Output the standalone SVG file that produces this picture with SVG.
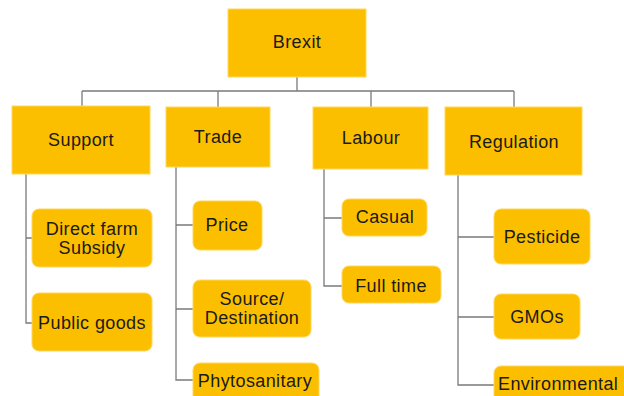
<svg xmlns="http://www.w3.org/2000/svg" width="624" height="396" viewBox="0 0 624 396">
<style>
.b{fill:#FCBF00;stroke:#FFD75A;stroke-width:1}
.t{font-family:"Liberation Sans",Arial,sans-serif;font-size:18px;letter-spacing:0.4px;fill:#1a1a1a;text-anchor:middle}
.l{fill:none;stroke:#7a7a7a;stroke-width:1.3}
</style>
<rect width="624" height="396" fill="#fff"/>
<g id="connectors">
<path class="l" d="M297 77V91M82 91H514M82 91V106M218 91V107M371 91V107M514 91V107"/>
<path class="l" d="M26 174V323H32M26 238H32"/>
<path class="l" d="M176 167V380H193M176 225H193M176 309H193"/>
<path class="l" d="M324 169V286H342M324 218H342"/>
<path class="l" d="M458 175V385H494M458 237H494M458 317H494"/>
</g>
<g id="brexit"><rect class="b" x="228" y="9" width="138" height="68"/><text class="t" x="297" y="48">Brexit</text></g>
<g id="support"><rect class="b" x="12" y="106" width="138" height="68"/><text class="t" x="81" y="146">Support</text></g>
<g id="trade"><rect class="b" x="166" y="107" width="104" height="60"/><text class="t" x="218" y="143">Trade</text></g>
<g id="labour"><rect class="b" x="313" y="107" width="115" height="62"/><text class="t" x="371" y="144">Labour</text></g>
<g id="regulation"><rect class="b" x="445" y="107" width="137" height="68"/><text class="t" x="514" y="148">Regulation</text></g>
<g id="direct"><rect class="b" x="32" y="209" width="120" height="58" rx="7"/><text class="t" x="92" y="235">Direct farm</text><text class="t" x="92" y="254">Subsidy</text></g>
<g id="public"><rect class="b" x="32" y="293" width="120" height="58" rx="7"/><text class="t" x="92" y="329">Public goods</text></g>
<g id="price"><rect class="b" x="193" y="201" width="69" height="49" rx="7"/><text class="t" x="227" y="231">Price</text></g>
<g id="source"><rect class="b" x="193" y="280" width="118" height="57" rx="7"/><text class="t" x="252" y="305">Source/</text><text class="t" x="252" y="324">Destination</text></g>
<g id="phyto"><rect class="b" x="193" y="363" width="126" height="45" rx="7"/><text class="t" x="255" y="387">Phytosanitary</text></g>
<g id="casual"><rect class="b" x="342" y="199" width="85" height="37" rx="7"/><text class="t" x="385" y="223">Casual</text></g>
<g id="fulltime"><rect class="b" x="342" y="266" width="99" height="37" rx="7"/><text class="t" x="391" y="292">Full time</text></g>
<g id="pesticide"><rect class="b" x="494" y="209" width="96" height="55" rx="7"/><text class="t" x="542" y="243">Pesticide</text></g>
<g id="gmos"><rect class="b" x="494" y="294" width="86" height="45" rx="7"/><text class="t" x="537" y="323">GMOs</text></g>
<g id="environmental"><rect class="b" x="494" y="366" width="150" height="45" rx="7"/><text class="t" x="498" y="390" style="text-anchor:start">Environmental</text></g>
</svg>
